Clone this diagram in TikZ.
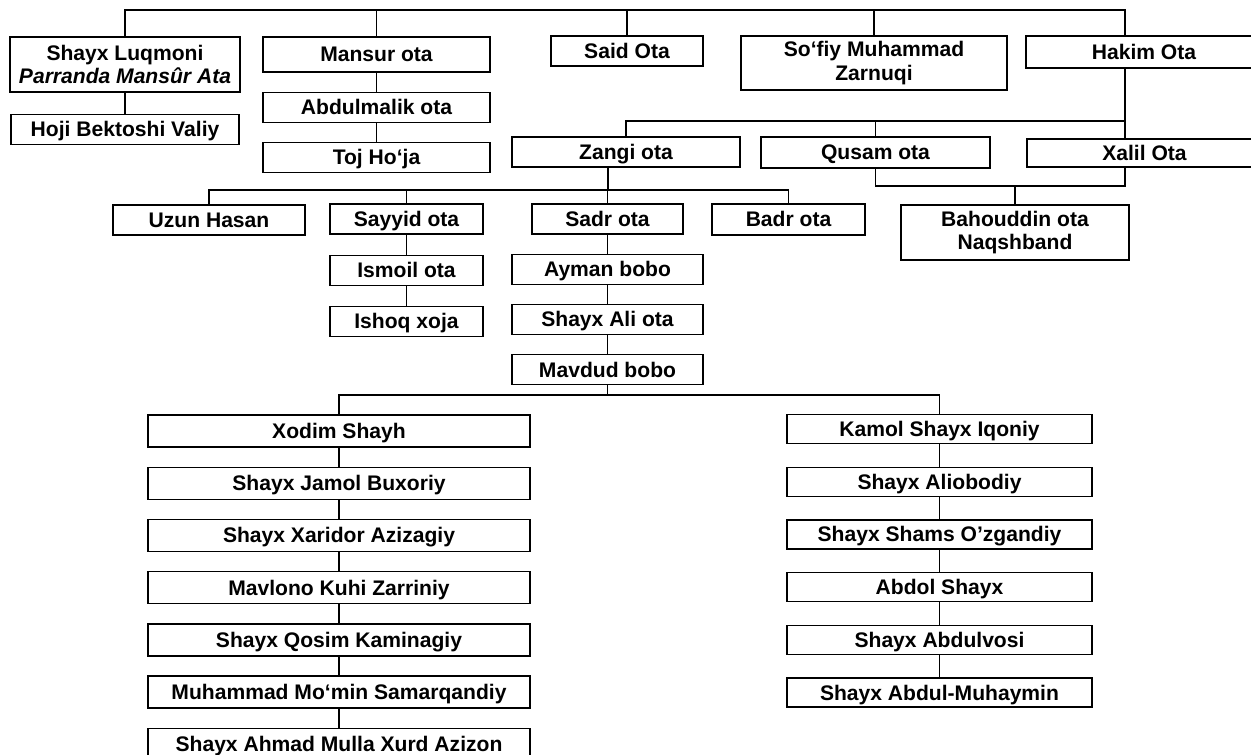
\documentclass[tikz,border=0pt]{standalone}
\usepackage{fontspec}
\setmainfont{Liberation Sans}
\usetikzlibrary{positioning}

\begin{document}
\begin{tikzpicture}[x=0.02cm, y=-0.02cm, node distance=0.38cm,
    box/.style={rectangle, draw, line width=0.7pt, align=center, inner sep=0pt,
        minimum height=0.6cm, text height=10.5pt, text depth=2pt,
        font=\fontsize{12}{13.5}\selectfont\bfseries},
    twoline/.style={box, text height=, text depth=},
    leftcol/.style={box, minimum width=7.64cm, minimum height=0.64cm},
    rightcol/.style={box, minimum width=6.1cm, minimum height=0.58cm},
    link/.style={line width=0.7pt}]
    \useasboundingbox (0,0) rectangle (1251,754);

    % Top row of the tree
    \node (luqmoni) [twoline, minimum width=4.6cm, minimum height=1.1cm] at (125,64.5) {Shayx Luqmoni\\ {\itshape Parranda Mansûr Ata}};
    \node (mansur) [box, minimum width=4.54cm, minimum height=0.7cm] at (376.5,54.5) {Mansur ota};
    \node (said) [box, minimum width=3.04cm] at (627,51) {Said Ota};
    \node (sofiy) [twoline, minimum width=5.32cm, minimum height=1.08cm] at (874,63) {So‘fiy Muhammad\\Zarnuqi};
    \node (hakim) [box, minimum width=4.72cm, minimum height=0.64cm] at (1144,52) {Hakim Ota};

    % Chains under the top row
    \node (bektoshi) [box, minimum width=4.56cm, below=0.42cm of luqmoni] {Hoji Bektoshi Valiy};
    \node (abdulmalik) [box, minimum width=4.54cm, below=of mansur] {Abdulmalik ota};
    \node (toj) [box, minimum width=4.54cm, below=of abdulmalik] {Toj Ho‘ja};

    % Second row
    \node (zangi) [box, minimum width=4.56cm] at (626,152) {Zangi ota};
    \node (qusam) [box, minimum width=4.58cm, minimum height=0.62cm] at (875.5,152.5) {Qusam ota};
    \node (xalil) [box, minimum width=4.7cm, minimum height=0.56cm] at (1144.5,153) {Xalil Ota};
    \node (bahouddin) [twoline, minimum width=4.56cm, minimum height=1.1cm] at (1015,232.5) {Bahouddin ota\\Naqshband};

    % Third row
    \node (uzun) [box, minimum width=3.84cm] at (209,220) {Uzun Hasan};
    \node (sayyid) [box, minimum width=3.06cm] at (406.5,219) {Sayyid ota};
    \node (sadr) [box, minimum width=3.02cm] at (607.5,219) {Sadr ota};
    \node (badr) [box, minimum width=3.06cm, minimum height=0.62cm] at (788.5,219.5) {Badr ota};
    \node (ismoil) [box, minimum width=3.06cm, below=0.4cm of sayyid] {Ismoil ota};
    \node (ishoq) [box, minimum width=3.06cm, below=0.4cm of ismoil] {Ishoq xoja};
    \node (ayman) [box, minimum width=3.82cm, below=of sadr] {Ayman bobo};
    \node (shayxali) [box, minimum width=3.82cm, below=of ayman] {Shayx Ali ota};
    \node (mavdud) [box, minimum width=3.82cm, below=of shayxali] {Mavdud bobo};

    % Left column
    \node (xodim) [leftcol] at (339,431) {Xodim Shayh};
    \node (jamol) [leftcol, below=of xodim] {Shayx Jamol Buxoriy};
    \node (xaridor) [leftcol, below=of jamol] {Shayx Xaridor Azizagiy};
    \node (mavlono) [leftcol, below=of xaridor] {Mavlono Kuhi Zarriniy};
    \node (qosim) [leftcol, below=of mavlono] {Shayx Qosim Kaminagiy};
    \node (momin) [leftcol, below=of qosim] {Muhammad Mo‘min Samarqandiy};
    \node (azizon) [leftcol, below=of momin] {Shayx Ahmad Mulla Xurd Azizon};

    % Right column
    \node (kamol) [rightcol] at (939.5,429) {Kamol Shayx Iqoniy};
    \node (aliobodiy) [rightcol, below=0.45cm of kamol] {Shayx Aliobodiy};
    \node (shams) [rightcol, below=0.45cm of aliobodiy] {Shayx Shams O’zgandiy};
    \node (abdol) [rightcol, below=0.45cm of shams] {Abdol Shayx};
    \node (abdulvosi) [rightcol, below=0.45cm of abdol] {Shayx Abdulvosi};
    \node (muhaymin) [rightcol, below=0.45cm of abdulvosi] {Shayx Abdul-Muhaymin};

    % Top bus
    \coordinate (topL) at (125,10);
    \coordinate (topR) at (1125,10);
    \draw[link] (luqmoni.north) -- (topL) -- (topR) -- (topR |- hakim.north);
    \foreach \n in {mansur, said, sofiy}
        \draw[link] (\n.north) -- (\n.north |- topL);

    % Hakim Ota and the second row
    \coordinate (hakimBus) at (1125,121);
    \draw[link] (topR |- hakim.south) -- (topR |- xalil.north);
    \draw[link] (zangi.north) |- (hakimBus);
    \draw[link] (qusam.north) -- (qusam.north |- hakimBus);

    % Qusam ota and Xalil Ota to Bahouddin
    \coordinate (bahBus) at (1125,186);
    \draw[link] (qusam.south) |- (bahBus) -- (bahBus |- xalil.south);
    \draw[link] (bahouddin.north) -- (bahouddin.north |- bahBus);

    % Zangi ota to the third row
    \coordinate (zangiBus) at (608,190);
    \draw[link] (zangiBus |- zangi.south) -- (zangiBus);
    \draw[link] (uzun.north) |- (badr.north |- zangiBus) -- (badr.north);
    \draw[link] (sayyid.north) -- (sayyid.north |- zangiBus);
    \draw[link] (sadr.north) -- (sadr.north |- zangiBus);

    % Mavdud bobo to both columns
    \coordinate (mavBus) at (608,395);
    \draw[link] (mavdud.south) -- (mavdud.south |- mavBus);
    \draw[link] (xodim.north) |- (kamol.north |- mavBus) -- (kamol.north);

    % Vertical chains
    \foreach \a/\b in {luqmoni/bektoshi, mansur/abdulmalik, abdulmalik/toj,
        sayyid/ismoil, ismoil/ishoq, sadr/ayman, ayman/shayxali, shayxali/mavdud,
        xodim/jamol, jamol/xaridor, xaridor/mavlono, mavlono/qosim, qosim/momin, momin/azizon,
        kamol/aliobodiy, aliobodiy/shams, shams/abdol, abdol/abdulvosi, abdulvosi/muhaymin}
        \draw[link] (\a) -- (\b);
\end{tikzpicture}
\end{document}
